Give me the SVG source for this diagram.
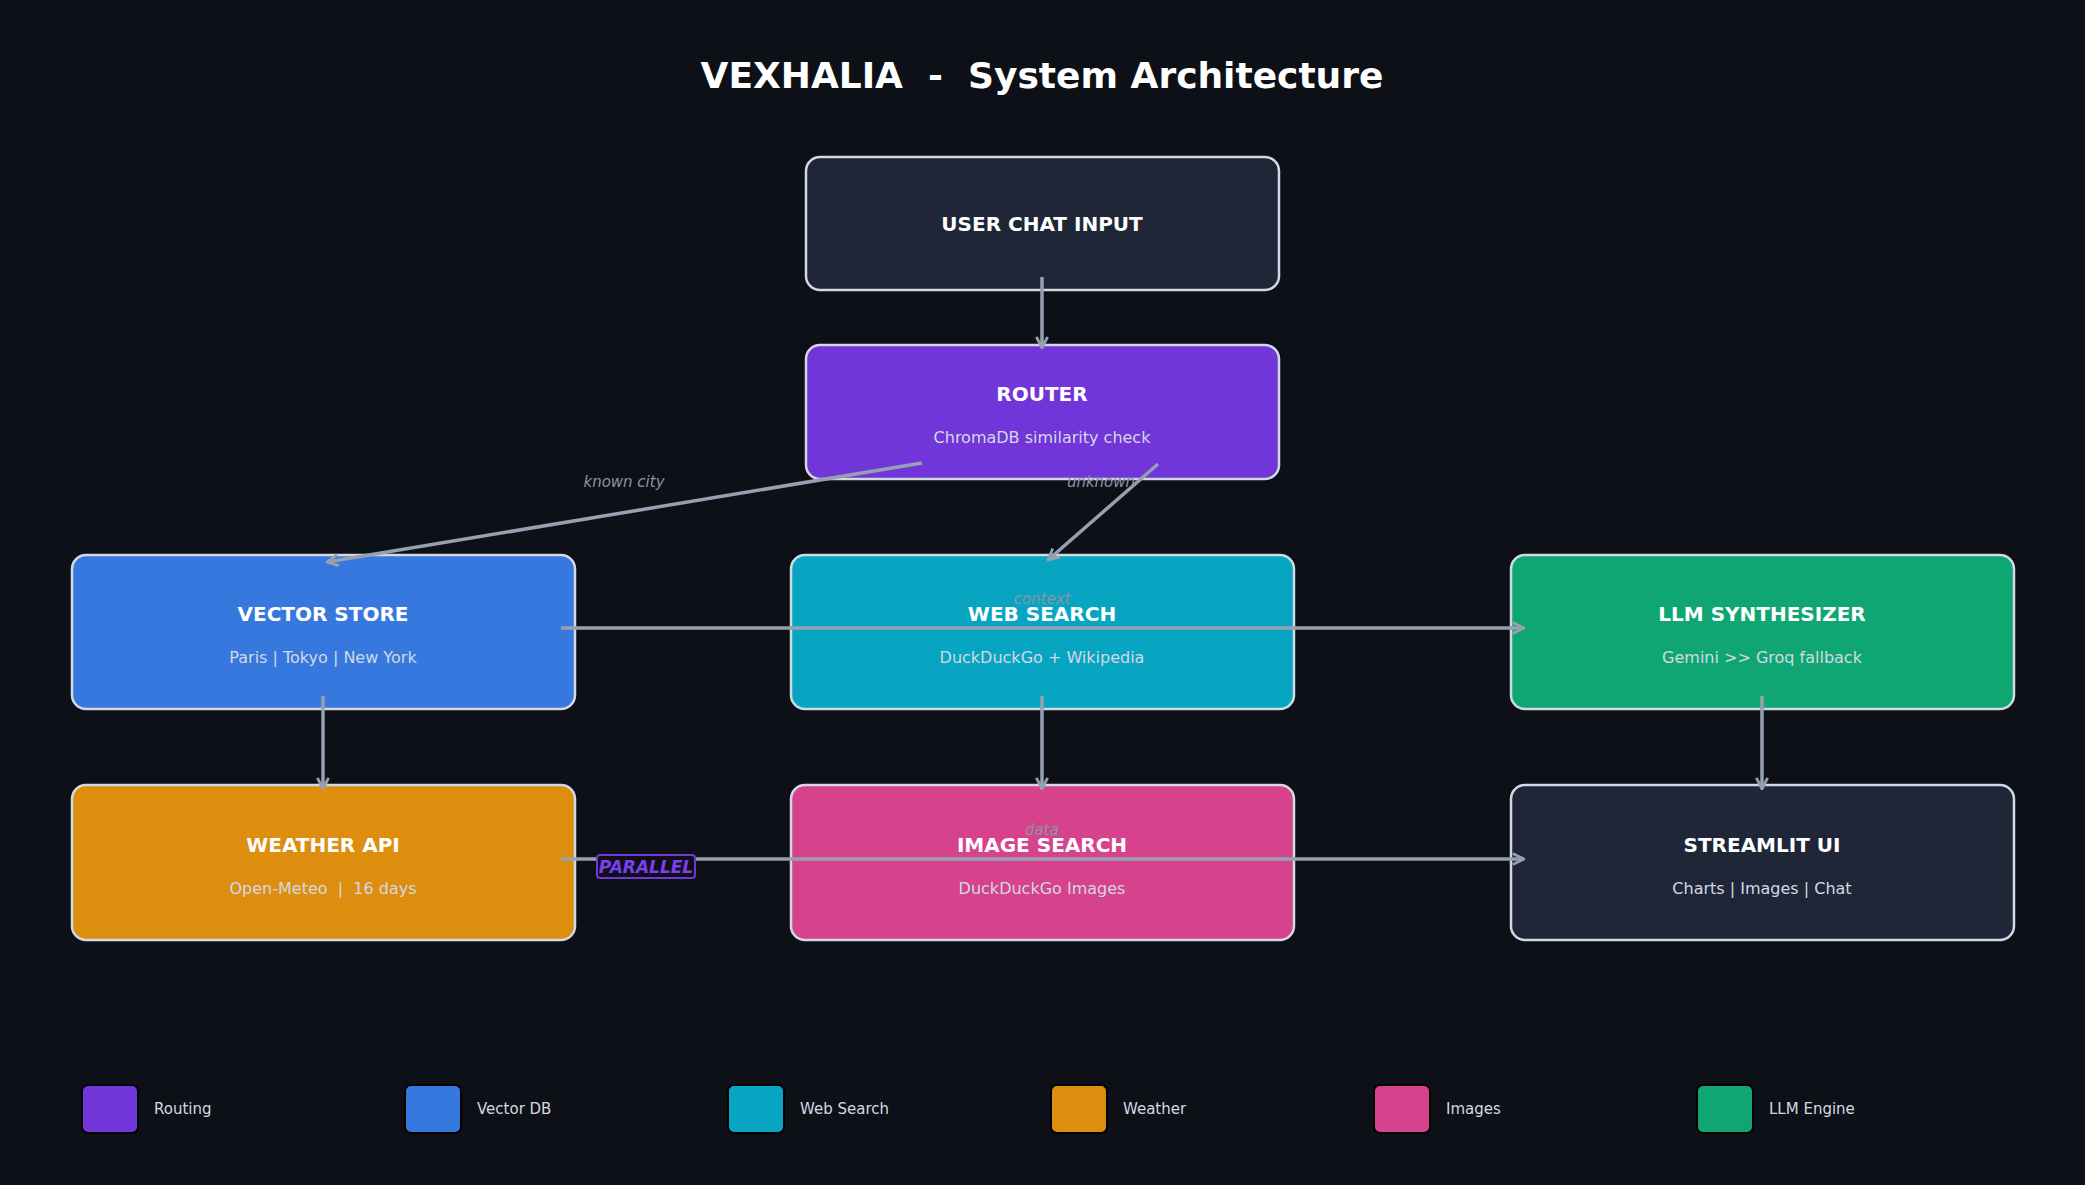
<svg xmlns="http://www.w3.org/2000/svg" width="2085" height="1185" viewBox="0 0 2085 1185">
<style>
text{font-family:"DejaVu Sans","Liberation Sans",sans-serif;text-anchor:middle}
.n{stroke:#d3d9e3;stroke-width:2.5}
.t{fill:#fff;font-weight:bold;font-size:20px}
.s{fill:#d3d9e3;font-size:16px}
.c{stroke:#96a0b0;stroke-width:3.5;fill:none;marker-end:url(#a)}
.l{fill:#8b93a3;font-size:15px;font-style:italic}
.lg{fill:#d3d9e3;font-size:15px;text-anchor:start}
</style>
<defs><marker id="a" viewBox="0 0 10 10" refX="9" refY="5" markerWidth="4" markerHeight="4" orient="auto"><path d="M1,1 L9,5 L1,9" fill="none" stroke="#96a0b0" stroke-width="2"/></marker></defs>
<rect width="2085" height="1185" fill="#0d1017"/>
<text x="1042" y="88" fill="#fff" font-size="36" font-weight="bold" xml:space="preserve">VEXHALIA  -  System Architecture</text>
<g id="user"><rect class="n" x="806" y="157" width="473" height="133" rx="14" fill="#1e2638"/><text class="t" x="1042" y="231">USER CHAT INPUT</text></g>
<g id="router"><rect class="n" x="806" y="345" width="473" height="134" rx="14" fill="#7135d9"/><text class="t" x="1042" y="401">ROUTER</text><text class="s" x="1042" y="443">ChromaDB similarity check</text></g>
<g id="vector"><rect class="n" x="72" y="555" width="503" height="154" rx="14" fill="#3778df"/><text class="t" x="323" y="621">VECTOR STORE</text><text class="s" x="323" y="663">Paris | Tokyo | New York</text></g>
<g id="web"><rect class="n" x="791" y="555" width="503" height="154" rx="14" fill="#07a5c2"/><text class="t" x="1042" y="621">WEB SEARCH</text><text class="s" x="1042" y="663">DuckDuckGo + Wikipedia</text></g>
<g id="llm"><rect class="n" x="1511" y="555" width="503" height="154" rx="14" fill="#10a674"/><text class="t" x="1762" y="621">LLM SYNTHESIZER</text><text class="s" x="1762" y="663">Gemini &gt;&gt; Groq fallback</text></g>
<g id="weather"><rect class="n" x="72" y="785" width="503" height="155" rx="14" fill="#de8e0e"/><text class="t" x="323" y="852">WEATHER API</text><text class="s" x="323" y="894" xml:space="preserve">Open-Meteo  |  16 days</text></g>
<g id="image"><rect class="n" x="791" y="785" width="503" height="155" rx="14" fill="#d6428b"/><text class="t" x="1042" y="852">IMAGE SEARCH</text><text class="s" x="1042" y="894">DuckDuckGo Images</text></g>
<g id="streamlit"><rect class="n" x="1511" y="785" width="503" height="155" rx="14" fill="#1e2638"/><text class="t" x="1762" y="852">STREAMLIT UI</text><text class="s" x="1762" y="894">Charts | Images | Chat</text></g>
<g id="connectors">
<path class="c" d="M1042,277 L1042,348"/>
<path class="c" d="M922,463 L327,562"/>
<path class="c" d="M1158,464 L1048,560"/>
<path class="c" d="M561,628 L1524,628"/>
<path class="c" d="M323,696 L323,789"/>
<path class="c" d="M1042,696 L1042,789"/>
<path class="c" d="M1762,696 L1762,789"/>
<path class="c" d="M561,859 L1524,859"/>
<text class="l" x="624" y="487">known city</text>
<text class="l" x="1101" y="487">unknown</text>
<text class="l" x="1042" y="604">context</text>
<text class="l" x="1042" y="835">data</text>
<rect x="597" y="855" width="98" height="23" rx="3" fill="#0d1017" stroke="#7135d9" stroke-width="2"/>
<text x="646" y="873" fill="#7d3ef0" font-size="17" font-weight="bold" font-style="italic">PARALLEL</text>
</g>
<g id="legend">
<rect x="82" y="1085" width="56" height="48" rx="6" fill="#7135d9" stroke="#000" stroke-width="2"/><text class="lg" x="154" y="1114">Routing</text>
<rect x="405" y="1085" width="56" height="48" rx="6" fill="#3778df" stroke="#000" stroke-width="2"/><text class="lg" x="477" y="1114">Vector DB</text>
<rect x="728" y="1085" width="56" height="48" rx="6" fill="#07a5c2" stroke="#000" stroke-width="2"/><text class="lg" x="800" y="1114">Web Search</text>
<rect x="1051" y="1085" width="56" height="48" rx="6" fill="#de8e0e" stroke="#000" stroke-width="2"/><text class="lg" x="1123" y="1114">Weather</text>
<rect x="1374" y="1085" width="56" height="48" rx="6" fill="#d6428b" stroke="#000" stroke-width="2"/><text class="lg" x="1446" y="1114">Images</text>
<rect x="1697" y="1085" width="56" height="48" rx="6" fill="#10a674" stroke="#000" stroke-width="2"/><text class="lg" x="1769" y="1114">LLM Engine</text>
</g>
</svg>
